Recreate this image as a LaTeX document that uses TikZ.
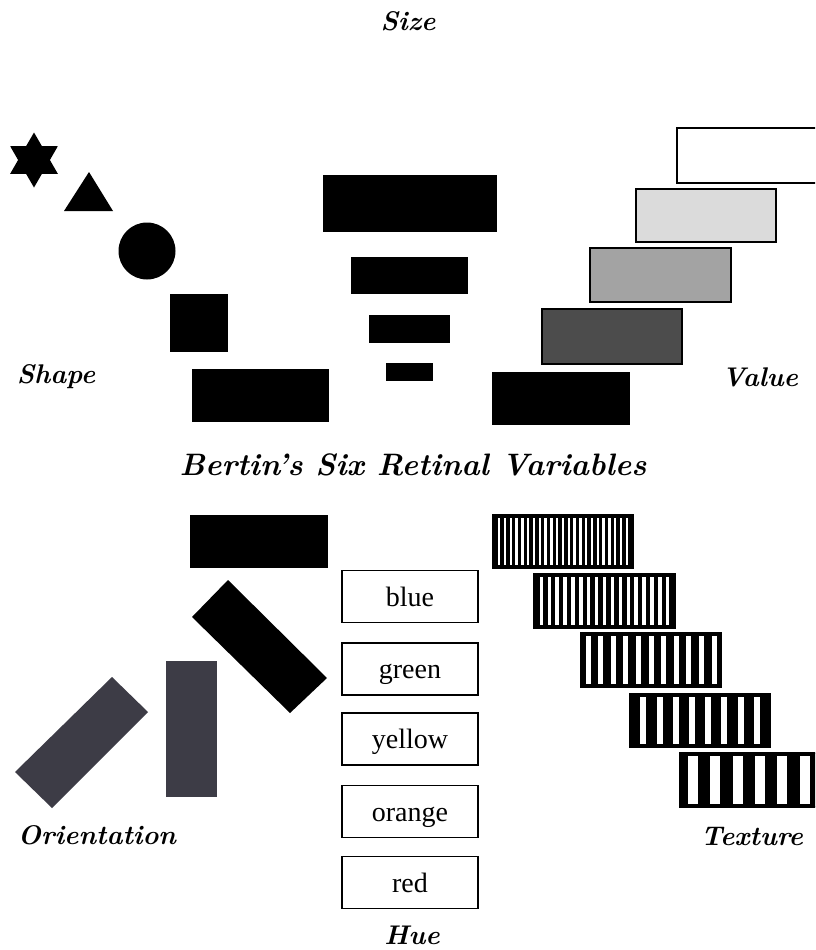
\documentclass[tikz,border=0pt]{standalone}
\usepackage{fontspec}
\newfontfamily\huefont{Liberation Serif}
\usetikzlibrary{calc}
\definecolor{slate}{HTML}{3D3C46}
\tikzset{
  lab/.style={font=\fontsize{27}{32}\selectfont\bfseries\itshape, inner sep=0pt},
  huebox/.style={draw=black, line width=1.5pt, minimum width=136pt, minimum height=52pt, inner sep=0pt, text height=19pt, text depth=0pt, font=\huefont\fontsize{28}{32}\selectfont},
  valbox/.style={draw=black, line width=2pt},
}
\newcommand\stripebox[7]{% x0 y0 x1 y1 period white-width count
  \fill[black] (#1,#2) rectangle (#3,#4);
  \pgfmathsetmacro\sbb{#5-#6}
  \pgfmathsetmacro\sboff{#1+((#3-#1)-(#7*#5+\sbb))/2+\sbb}
  \foreach \k in {1,...,#7}{
    \pgfmathsetmacro\sbl{\sboff+(\k-1)*#5}
    \fill[white] (\sbl,#2+3) rectangle (\sbl+#6,#4-3);
  }
  \draw[line width=2pt] (#1,#2) rectangle (#3,#4);
}
\begin{document}
\begin{tikzpicture}[x=1pt,y=-1pt]
\useasboundingbox (0,0) rectangle (815,950);
\clip (0,0) rectangle (815,950);
\fill[white] (0,0) rectangle (815,950);

% ---- labels
\node[lab] (size) at (408,21) {Size};
\node[lab] (shape) at (56,377) {Shape};
\node[lab] (value) at (760,377) {Value};
\node[lab, font=\fontsize{31}{36}\selectfont\bfseries\itshape] (title) at (413,465) {Bertin's Six Retinal Variables};
\node[lab] (orient) at (97,835) {Orientation};
\node[lab] (texture) at (752,836) {Texture};
\node[lab] (hue) at (412,935) {Hue};

% ---- shape
\fill[shift={(34,160)}] (90:27.5) -- (120:15.9) -- (150:27.5) -- (180:15.9) -- (210:27.5) -- (240:15.9) -- (270:27.5) -- (300:15.9) -- (330:27.5) -- (0:15.9) -- (30:27.5) -- (60:15.9) -- cycle;
\fill (89,172) -- (113,211) -- (64,211) -- cycle;
\fill (147,251) circle (28.5);
\fill (170,294) rectangle (228,352);
\fill (192,369) rectangle (329,422);

% ---- size
\fill (323,175) rectangle (497,232);
\fill (351,257) rectangle (468,294);
\fill (369,315) rectangle (450,343);
\fill (386,363) rectangle (433,381);

% ---- value
\fill (492,372) rectangle (630,425);
\draw[valbox, fill=black!70] (542,309) rectangle (682,364);
\draw[valbox, fill=black!36] (590,248) rectangle (731,302);
\draw[valbox, fill=black!14] (636,189) rectangle (776,242);
\draw[valbox, fill=white] (677,128) rectangle (818,183);

% ---- orientation
\fill (190,515) rectangle (328,568);
\fill (228,580) -- (327,678) -- (290,713) -- (192,617) -- cycle;
\fill[slate] (166,661) rectangle (217,797);
\fill[slate] (112,677) -- (148,712) -- (52,808) -- (15,772) -- cycle;

% ---- hue
\node[huebox] (blue) at (410,596.5) {blue};
\node[huebox] (green) at (410,669) {green};
\node[huebox] (yellow) at (410,739) {yellow};
\node[huebox] (orange) at (410,811.5) {orange};
\node[huebox] (red) at (410,882.5) {red};

% ---- texture
\stripebox{493}{515}{633}{568}{5.8}{2.4}{23}
\stripebox{534}{574}{675}{628}{7.9}{3.4}{17}
\stripebox{581}{633}{721}{687}{12.6}{5}{11}
\stripebox{630}{694}{770}{747}{16.2}{6}{8}
\stripebox{680}{753}{840}{807}{22.3}{10}{7}
\end{tikzpicture}
\end{document}
